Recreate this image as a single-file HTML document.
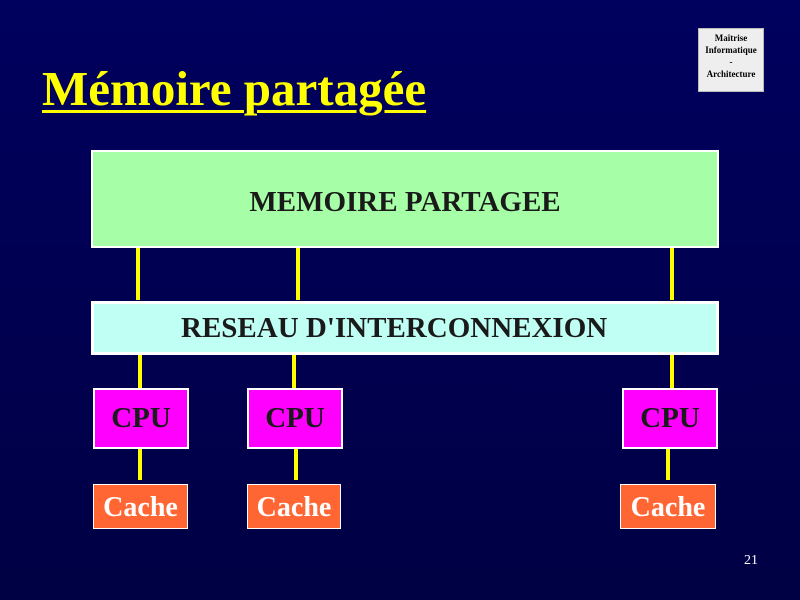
<!DOCTYPE html>
<html><head><meta charset="utf-8"><style>
body{margin:0;width:800px;height:600px;overflow:hidden;background:linear-gradient(#00005e,#000044);position:relative;font-family:"Liberation Serif",serif;}
div{position:absolute;box-sizing:border-box;}
.b{font-weight:bold;display:flex;align-items:center;justify-content:center;white-space:nowrap;}
.l{background:#ffff00;width:4px;}
</style></head><body>
<div style="left:42px;top:60px;font-size:49px;font-weight:bold;color:#ffff00;text-decoration:underline;text-decoration-thickness:3px;text-underline-offset:5px;white-space:nowrap;">Mémoire partagée</div>
<div style="left:698px;top:28px;width:66px;height:64px;background:#eee;border:1px solid #bbb;font-size:9px;font-weight:bold;color:#000;text-align:center;line-height:12px;padding-top:3px;">Maîtrise<br>Informatique<br>-<br>Architecture</div>
<div class="b" style="left:91px;top:150px;width:628px;height:98px;background:#a6ffa6;border:2px solid #fff;font-size:29px;color:#1a1a1a;padding-top:6px;">MEMOIRE PARTAGEE</div>
<div class="l" style="left:136px;top:248px;height:52px"></div>
<div class="l" style="left:296px;top:248px;height:52px"></div>
<div class="l" style="left:670px;top:248px;height:52px"></div>
<div class="b" style="left:91px;top:301px;width:628px;height:54px;background:#c0fff4;border:3px solid #fff;font-size:29px;color:#1a1a1a;justify-content:flex-start;padding-left:87px;">RESEAU D'INTERCONNEXION</div>
<div class="l" style="left:138px;top:355px;height:33px"></div>
<div class="l" style="left:292px;top:355px;height:33px"></div>
<div class="l" style="left:670px;top:355px;height:33px"></div>
<div class="b" style="left:93px;top:388px;width:96px;height:61px;background:#ff00ff;border:2px solid #fff;font-size:29px;color:#1a1a1a;">CPU</div>
<div class="b" style="left:247px;top:388px;width:96px;height:61px;background:#ff00ff;border:2px solid #fff;font-size:29px;color:#1a1a1a;">CPU</div>
<div class="b" style="left:622px;top:388px;width:96px;height:61px;background:#ff00ff;border:2px solid #fff;font-size:29px;color:#1a1a1a;">CPU</div>
<div class="l" style="left:138px;top:449px;height:31px"></div>
<div class="l" style="left:294px;top:449px;height:31px"></div>
<div class="l" style="left:666px;top:449px;height:31px"></div>
<div class="b" style="left:93px;top:484px;width:95px;height:45px;background:#ff6633;border:1px solid #fff;font-size:28px;color:#fff;padding-top:2px;">Cache</div>
<div class="b" style="left:247px;top:484px;width:94px;height:45px;background:#ff6633;border:1px solid #fff;font-size:28px;color:#fff;padding-top:2px;">Cache</div>
<div class="b" style="left:620px;top:484px;width:96px;height:45px;background:#ff6633;border:1px solid #fff;font-size:28px;color:#fff;padding-top:2px;">Cache</div>
<div style="left:744px;top:553px;font-size:14px;color:#fff;">21</div>
</body></html>
